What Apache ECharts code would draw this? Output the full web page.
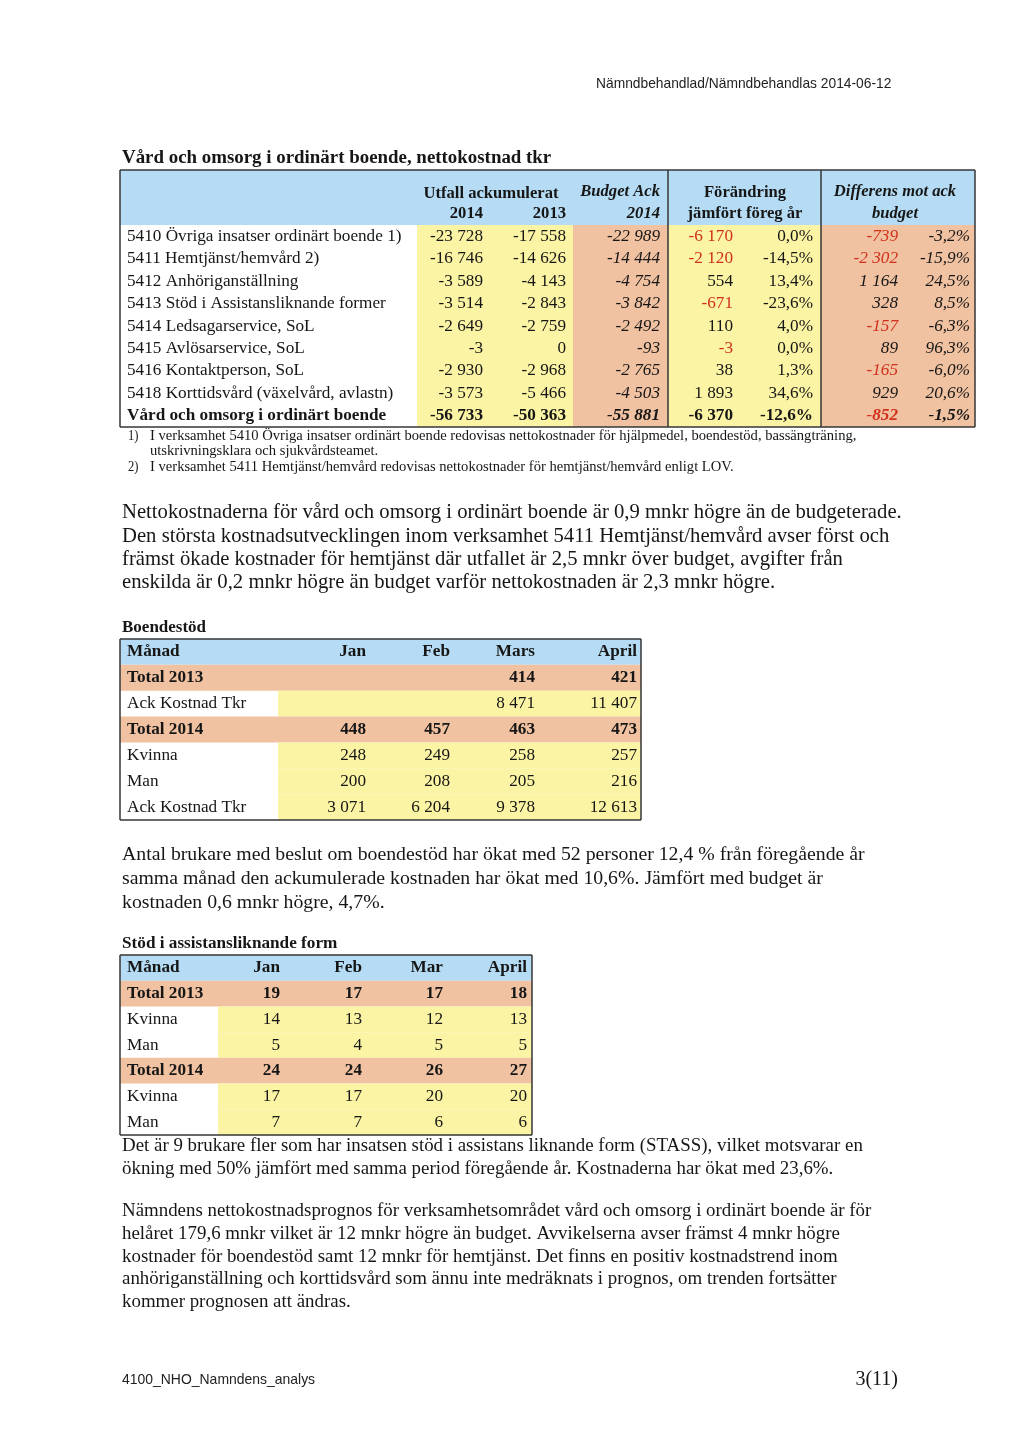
<!DOCTYPE html>
<html>
<head>
<meta charset="utf-8">
<script src="https://cdn.jsdelivr.net/npm/echarts@6/dist/echarts.min.js"></script>
<style>
  html, body { margin: 0; background: #fff; }
  #page { width: 1024px; height: 1448px; }
</style>
</head>
<body>
<div id="page"></div>
<script>
// ---- data: Vård och omsorg i ordinärt boende, nettokostnad tkr
const t1Rows = [
  '5410 Övriga insatser ordinärt boende 1)',
  '5411 Hemtjänst/hemvård 2)',
  '5412 Anhöriganställning',
  '5413 Stöd i Assistansliknande former',
  '5414 Ledsagarservice, SoL',
  '5415 Avlösarservice, SoL',
  '5416 Kontaktperson, SoL',
  '5418 Korttidsvård (växelvård, avlastn)',
  'Vård och omsorg i ordinärt boende'
]
const t1Utfall2014 = [-23728, -16746, -3589, -3514, -2649, -3, -2930, -3573, -56733]
const t1Utfall2013 = [-17558, -14626, -4143, -2843, -2759, 0, -2968, -5466, -50363]
const t1BudgetAck = [-22989, -14444, -4754, -3842, -2492, -93, -2765, -4503, -55881]
const t1ChangeAmt = [-6170, -2120, 554, -671, 110, -3, 38, 1893, -6370]
const t1ChangePct = [0.0, -14.5, 13.4, -23.6, 4.0, 0.0, 1.3, 34.6, -12.6]
const t1DiffAmt = [-739, -2302, 1164, 328, -157, 89, -165, 929, -852]
const t1DiffPct = [-3.2, -15.9, 24.5, 8.5, -6.3, 96.3, -6.0, 20.6, -1.5]

// ---- data: Boendestöd
const t2Months = ['Jan', 'Feb', 'Mars', 'April']
const t2Labels = ['Total 2013', 'Ack Kostnad Tkr', 'Total 2014', 'Kvinna', 'Man', 'Ack Kostnad Tkr']
const t2Total2013 = [null, null, 414, 421]
const t2Ack2013 = [null, null, 8471, 11407]
const t2Total2014 = [448, 457, 463, 473]
const t2Kvinna2014 = [248, 249, 258, 257]
const t2Man2014 = [200, 208, 205, 216]
const t2Ack2014 = [3071, 6204, 9378, 12613]

// ---- data: Stöd i assistansliknande form
const t3Months = ['Jan', 'Feb', 'Mar', 'April']
const t3Labels = ['Total 2013', 'Kvinna', 'Man', 'Total 2014', 'Kvinna', 'Man']
const t3Total2013 = [19, 17, 17, 18]
const t3Kvinna2013 = [14, 13, 12, 13]
const t3Man2013 = [5, 4, 5, 5]
const t3Total2014 = [24, 24, 26, 27]
const t3Kvinna2014 = [17, 17, 20, 20]
const t3Man2014 = [7, 7, 6, 6]

// ---- texts
const headerText = 'Nämndbehandlad/Nämndbehandlas 2014-06-12'
const title1 = 'Vård och omsorg i ordinärt boende, nettokostnad tkr'
const title2 = 'Boendestöd'
const title3 = 'Stöd i assistansliknande form'
const footnotes = [
  ['1)', 'I verksamhet 5410 Övriga insatser ordinärt boende redovisas nettokostnader för hjälpmedel, boendestöd, bassängträning,'],
  ['', 'utskrivningsklara och sjukvårdsteamet.'],
  ['2)', 'I verksamhet 5411 Hemtjänst/hemvård redovisas nettokostnader för hemtjänst/hemvård enligt LOV.']
]
const para1 = [
  'Nettokostnaderna för vård och omsorg i ordinärt boende är 0,9 mnkr högre än de budgeterade.',
  'Den största kostnadsutvecklingen inom verksamhet 5411 Hemtjänst/hemvård avser först och',
  'främst ökade kostnader för hemtjänst där utfallet är 2,5 mnkr över budget, avgifter från',
  'enskilda är 0,2 mnkr högre än budget varför nettokostnaden är 2,3 mnkr högre.'
]
const para2 = [
  'Antal brukare med beslut om boendestöd har ökat med 52 personer 12,4 % från föregående år',
  'samma månad den ackumulerade kostnaden har ökat med 10,6%. Jämfört med budget är',
  'kostnaden 0,6 mnkr högre, 4,7%.'
]
const para3 = [
  'Det är 9 brukare fler som har insatsen stöd i assistans liknande form (STASS), vilket motsvarar en',
  'ökning med 50% jämfört med samma period föregående år. Kostnaderna har ökat med 23,6%.'
]
const para4 = [
  'Nämndens nettokostnadsprognos för verksamhetsområdet vård och omsorg i ordinärt boende är för',
  'helåret 179,6 mnkr vilket är 12 mnkr högre än budget. Avvikelserna avser främst 4 mnkr högre',
  'kostnader för boendestöd samt 12 mnkr för hemtjänst. Det finns en positiv kostnadstrend inom',
  'anhöriganställning och korttidsvård som ännu inte medräknats i prognos, om trenden fortsätter',
  'kommer prognosen att ändras.'
]
const footerLeft = '4100_NHO_Namndens_analys'
const footerRight = '3(11)'

// ---- styles
const SERIF = '"Liberation Serif", "Times New Roman", serif'
const SANS = '"Liberation Sans", Arial, sans-serif'
const INK = '#161616'
const RED = '#d1301c'
const BLUE = '#b5dcf4'
const ORANGE = '#f0c2a1'
const YELLOW = '#fbf4a4'
const BORDER = '#363636'

function fmt(v) {
  if (v === null || v === undefined) return ''
  const s = Math.abs(v).toString().replace(/\B(?=(\d{3})+(?!\d))/g, ' ')
  return (v < 0 ? '-' : '') + s
}
function pct(v) {
  return v.toFixed(1).replace('.', ',') + '%'
}

// cell helpers (x/y in table units = pixels from the table's top-left corner)
function fill(x0, x1, y0, y1, color) {
  return { kind: 'fill', v: [x0, y0, x1, y1], color: color }
}
function line(x0, y0, x1, y1, width) {
  return { kind: 'line', v: [x0, y0, x1, y1], width: width || 1.5 }
}
function txt(x, y0, y1, text, align, o) {
  o = o || {}
  return {
    kind: 'text', v: [x, y0, x, y1], text: text, align: align,
    size: o.size || 17.2, bold: !!o.bold, italic: !!o.italic, color: o.color || INK
  }
}
function frame(items, w, h) {
  items.push(line(0, 0, w, 0), line(w, 0, w, h), line(w, h, 0, h), line(0, h, 0, 0))
}

function renderer(items) {
  return function (params, api) {
    const it = items[params.dataIndex]
    const a = api.coord([api.value(0), api.value(1)])
    const b = api.coord([api.value(2), api.value(3)])
    if (it.kind === 'fill') {
      return {
        type: 'rect',
        shape: { x: a[0], y: a[1], width: b[0] - a[0], height: b[1] - a[1] },
        style: { fill: it.color }
      }
    }
    if (it.kind === 'line') {
      return {
        type: 'line',
        shape: { x1: a[0], y1: a[1], x2: b[0], y2: b[1] },
        style: { stroke: BORDER, lineWidth: it.width }
      }
    }
    return {
      type: 'text',
      x: a[0],
      y: (a[1] + b[1]) / 2,
      style: {
        text: it.text,
        fill: it.color,
        fontSize: it.size,
        fontFamily: SERIF,
        fontWeight: it.bold ? 'bold' : 'normal',
        fontStyle: it.italic ? 'italic' : 'normal',
        textAlign: it.align,
        textVerticalAlign: 'middle',
        align: it.align,
        verticalAlign: 'middle'
      }
    }
  }
}

// ---- table 1 layout
const T1 = { left: 120, top: 170, width: 855, height: 257, head: 55 }
const t1RowH = (T1.height - T1.head) / t1Rows.length
const t1Items = []
t1Items.push(fill(0, T1.width, 0, T1.head, BLUE))
;[[297, 453, YELLOW], [453, 548, ORANGE], [548, 701, YELLOW], [701, T1.width, ORANGE]].forEach(function (f) {
  t1Items.push(fill(f[0], f[1], T1.head, T1.height, f[2]))
})
frame(t1Items, T1.width, T1.height)
t1Items.push(line(548, 0, 548, T1.height), line(701, 0, 701, T1.height))
// header
const hA = [8, 36], hB = [32, 56], HS = 16.6
t1Items.push(txt(371, hA[0] + 2, hA[1] + 2, 'Utfall ackumulerat', 'center', { bold: true, size: HS }))
t1Items.push(txt(363, hB[0], hB[1], '2014', 'right', { bold: true, size: HS }))
t1Items.push(txt(446, hB[0], hB[1], '2013', 'right', { bold: true, size: HS }))
t1Items.push(txt(540, hA[0], hA[1], 'Budget Ack', 'right', { bold: true, italic: true, size: HS }))
t1Items.push(txt(540, hB[0], hB[1], '2014', 'right', { bold: true, italic: true, size: HS }))
t1Items.push(txt(625, hA[0] + 1, hA[1] + 1, 'Förändring', 'center', { bold: true, size: HS }))
t1Items.push(txt(625, hB[0], hB[1], 'jämfört föreg år', 'center', { bold: true, size: HS }))
t1Items.push(txt(775, hA[0], hA[1], 'Differens mot ack', 'center', { bold: true, italic: true, size: HS }))
t1Items.push(txt(775, hB[0], hB[1], 'budget', 'center', { bold: true, italic: true, size: HS }))
t1Rows.forEach(function (name, i) {
  const y0 = T1.head + i * t1RowH, y1 = y0 + t1RowH
  const last = i === t1Rows.length - 1
  t1Items.push(txt(7, y0, y1, name, 'left', { bold: last }))
  t1Items.push(txt(363, y0, y1, fmt(t1Utfall2014[i]), 'right', { bold: last }))
  t1Items.push(txt(446, y0, y1, fmt(t1Utfall2013[i]), 'right', { bold: last }))
  t1Items.push(txt(540, y0, y1, fmt(t1BudgetAck[i]), 'right', { bold: last, italic: true }))
  t1Items.push(txt(613, y0, y1, fmt(t1ChangeAmt[i]), 'right', { bold: last, color: (!last && t1ChangeAmt[i] < 0) ? RED : INK }))
  t1Items.push(txt(693, y0, y1, pct(t1ChangePct[i]), 'right', { bold: last }))
  t1Items.push(txt(778, y0, y1, fmt(t1DiffAmt[i]), 'right', { bold: last, italic: true, color: t1DiffAmt[i] < 0 ? RED : INK }))
  t1Items.push(txt(850, y0, y1, pct(t1DiffPct[i]), 'right', { bold: last, italic: true }))
})

// ---- month tables (2 and 3)
function monthTable(box, months, labels, rows, totals, anchors, labelW) {
  const items = []
  const n = labels.length + 1
  const rh = box.height / n
  items.push(fill(0, box.width, 0, rh, BLUE))
  labels.forEach(function (lab, i) {
    const y0 = (i + 1) * rh, y1 = y0 + rh
    if (totals[i]) items.push(fill(0, box.width, y0, y1, ORANGE))
    else items.push(fill(labelW, box.width, y0, y1, YELLOW))
  })
  frame(items, box.width, box.height)
  items.push(txt(7, 0, rh, 'Månad', 'left', { bold: true, size: 17.2 }))
  months.forEach(function (m, j) {
    items.push(txt(anchors[j], 0, rh, m, 'right', { bold: true, size: 17.2 }))
  })
  labels.forEach(function (lab, i) {
    const y0 = (i + 1) * rh, y1 = y0 + rh
    items.push(txt(7, y0, y1, lab, 'left', { bold: totals[i], size: 17.2 }))
    rows[i].forEach(function (v, j) {
      items.push(txt(anchors[j], y0, y1, fmt(v), 'right', { bold: totals[i], size: 17.2 }))
    })
  })
  return items
}

const T2 = { left: 120, top: 639, width: 521, height: 181 }
const t2Items = monthTable(T2, t2Months, t2Labels,
  [t2Total2013, t2Ack2013, t2Total2014, t2Kvinna2014, t2Man2014, t2Ack2014],
  [true, false, true, false, false, false], [246, 330, 415, 517], 158)

const T3 = { left: 120, top: 955, width: 412, height: 180 }
const t3Items = monthTable(T3, t3Months, t3Labels,
  [t3Total2013, t3Kvinna2013, t3Man2013, t3Total2014, t3Kvinna2014, t3Man2014],
  [true, false, false, true, false, false], [160, 242, 323, 407], 98)

// ---- free text
const graphics = []
function addText(x, y, text, o) {
  graphics.push({
    type: 'text', x: x, y: y, silent: true, scaleX: o.scaleX || 1,
    style: {
      text: text, fill: o.color || INK,
      font: (o.bold ? 'bold ' : '') + o.size + 'px ' + (o.family || SERIF),
      textAlign: o.align || 'left', textVerticalAlign: 'middle',
      align: o.align || 'left', verticalAlign: 'middle'
    }
  })
}
function addPara(lines, x, y, step, o) {
  lines.forEach(function (l, i) { addText(x, y + i * step, l, o) })
}
addText(596, 84, headerText, { size: 15, family: SANS, color: '#222', scaleX: 0.92 })
addText(122, 158, title1, { size: 18.9, bold: true })
footnotes.forEach(function (f, i) {
  const y = [436, 451, 467][i]
  if (f[0]) addText(128, y, f[0], { size: 14, scaleX: 0.9 })
  addText(150, y, f[1], { size: 14.6 , scaleX: 1 })
})
addPara(para1, 122, 513, 23.3, { size: 20.7 })
addText(122, 628, title2, { size: 17, bold: true })
addPara(para2, 122, 855, 24, { size: 19.8 })
addText(122, 944, title3, { size: 17.2, bold: true })
addPara(para3, 122, 1146, 23.5, { size: 18.9 })
addPara(para4, 122, 1211, 22.8, { size: 18.9 })
addText(122, 1380, footerLeft, { size: 15, family: SANS, color: '#222', scaleX: 0.93 })
addText(898, 1380, footerRight, { size: 20, align: 'right' })

// ---- chart
const boxes = [T1, T2, T3]
const itemSets = [t1Items, t2Items, t3Items]
const chart = echarts.init(document.getElementById('page'))
chart.setOption({
  animation: false,
  backgroundColor: '#ffffff',
  grid: boxes.map(function (b) {
    return { left: b.left, top: b.top, width: b.width, height: b.height, show: false }
  }),
  xAxis: boxes.map(function (b, i) {
    return { type: 'value', gridIndex: i, min: 0, max: b.width, show: false }
  }),
  yAxis: boxes.map(function (b, i) {
    return { type: 'value', gridIndex: i, min: 0, max: b.height, inverse: true, show: false }
  }),
  series: itemSets.map(function (items, i) {
    return {
      type: 'custom',
      xAxisIndex: i,
      yAxisIndex: i,
      clip: false,
      silent: true,
      data: items.map(function (it) { return it.v }),
      renderItem: renderer(items)
    }
  }),
  graphic: graphics
})
</script>
</body>
</html>
